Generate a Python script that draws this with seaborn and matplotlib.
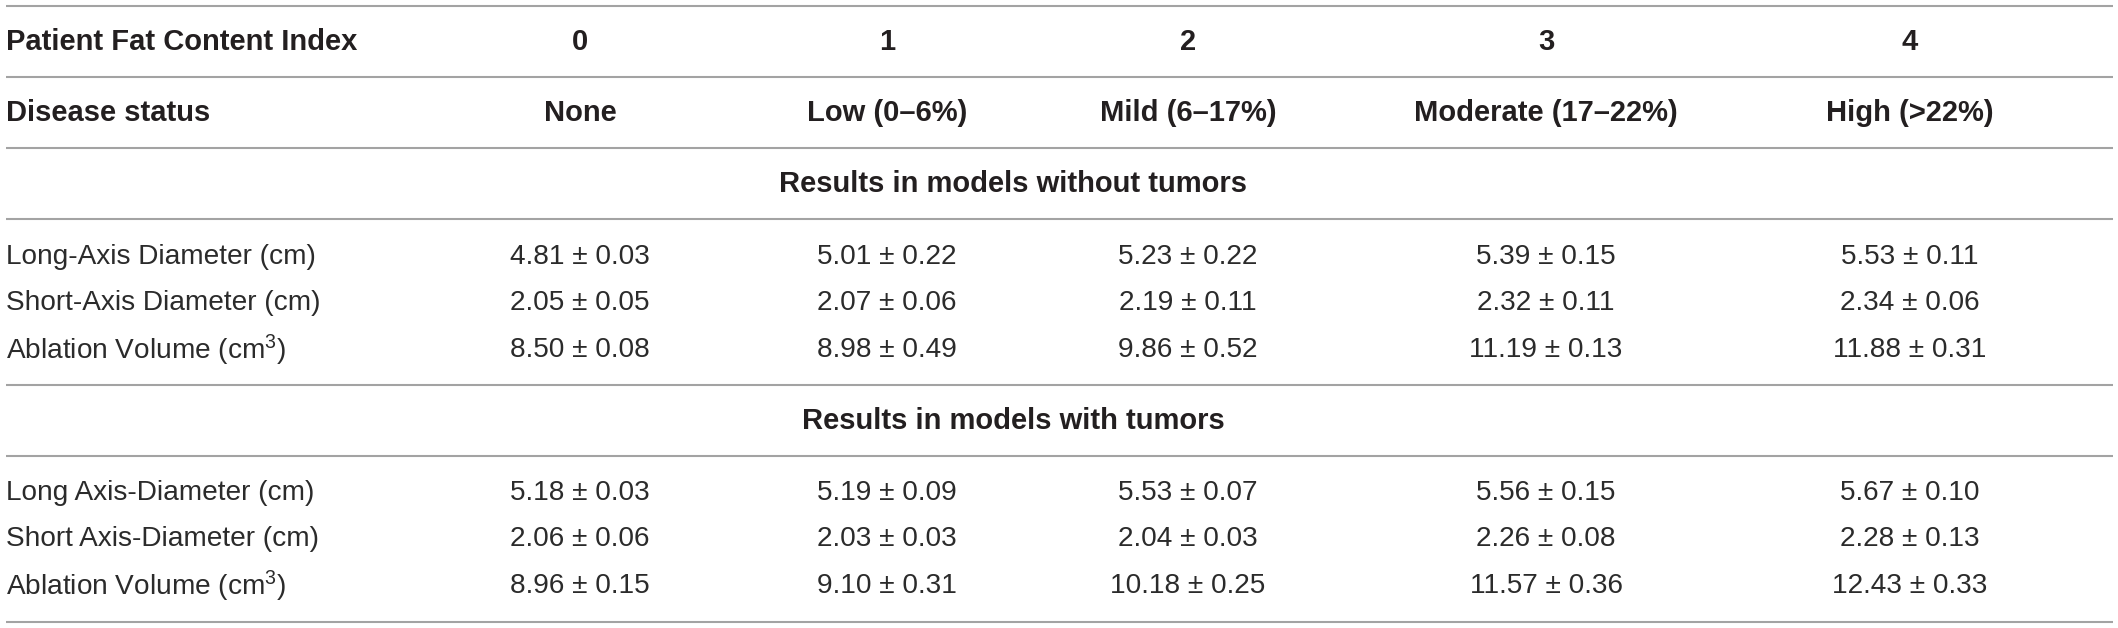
import matplotlib.pyplot as plt
import seaborn as sns

# Table content
fat_index = ["0", "1", "2", "3", "4"]
disease_status = ["None", "Low (0–6%)", "Mild (6–17%)", "Moderate (17–22%)", "High (>22%)"]

section_titles = ["Results in models without tumors", "Results in models with tumors"]

labels_no_tumor = ["Long-Axis Diameter (cm)", "Short-Axis Diameter (cm)", "Ablation Volume (cm$^{3}$)"]
labels_tumor = ["Long Axis-Diameter (cm)", "Short Axis-Diameter (cm)", "Ablation Volume (cm$^{3}$)"]

# mean and sd, one list per measure, one value per fat index
long_no_tumor = [4.81, 5.01, 5.23, 5.39, 5.53]
long_no_tumor_sd = [0.03, 0.22, 0.22, 0.15, 0.11]
short_no_tumor = [2.05, 2.07, 2.19, 2.32, 2.34]
short_no_tumor_sd = [0.05, 0.06, 0.11, 0.11, 0.06]
vol_no_tumor = [8.50, 8.98, 9.86, 11.19, 11.88]
vol_no_tumor_sd = [0.08, 0.49, 0.52, 0.13, 0.31]

long_tumor = [5.18, 5.19, 5.53, 5.56, 5.67]
long_tumor_sd = [0.03, 0.09, 0.07, 0.15, 0.10]
short_tumor = [2.06, 2.03, 2.04, 2.26, 2.28]
short_tumor_sd = [0.06, 0.03, 0.03, 0.08, 0.13]
vol_tumor = [8.96, 9.10, 10.18, 11.57, 12.43]
vol_tumor_sd = [0.15, 0.31, 0.25, 0.36, 0.33]

sns.set_theme(style="white")
plt.rcParams['font.family'] = ['Liberation Sans', 'DejaVu Sans']
plt.rcParams['mathtext.fontset'] = 'custom'
plt.rcParams['mathtext.rm'] = 'Liberation Sans'
plt.rcParams['mathtext.default'] = 'regular'

W, H = 2118, 628
fig = plt.figure(figsize=(W / 100, H / 100), dpi=100)
ax = fig.add_axes([0, 0, 1, 1])
ax.set_xlim(0, W)
ax.set_ylim(H, 0)
ax.axis('off')

# layout (pixel positions)
col_x = [580, 887, 1188, 1546, 1910]
label_x = 6
rule_y = [6, 77, 148, 219, 385, 456, 622]
fs = 20.2
fs_bold = 21
line_col = '#a3a3a3'
bold_col = '#231f20'
text_col = '#2b2b2b'

for y in rule_y:
    ax.plot([6, 2113], [y, y], color=line_col, lw=1.5, solid_capstyle='butt')

# header rows
ax.text(label_x, 42, "Patient Fat Content Index", fontsize=fs_bold, fontweight='bold',
        color=bold_col, ha='left', va='center')
ax.text(label_x, 113, "Disease status", fontsize=fs_bold, fontweight='bold',
        color=bold_col, ha='left', va='center')
for x, idx, ds in zip(col_x, fat_index, disease_status):
    ax.text(x, 42, idx, fontsize=fs_bold, fontweight='bold', color=bold_col, ha='center', va='center')
    ax.text(x, 113, ds, fontsize=fs_bold, fontweight='bold', color=bold_col, ha='center', va='center')


def draw_block(title, title_y, labels, means, sds, row_y):
    ax.text(1013, title_y, title, fontsize=fs_bold, fontweight='bold', color=bold_col,
            ha='center', va='center')
    for lab, m, s, y in zip(labels, means, sds, row_y):
        ax.text(label_x, y, lab, fontsize=fs, color=text_col, ha='left', va='center')
        for x, mv, sv in zip(col_x, m, s):
            ax.text(x, y, f"{mv:.2f} ± {sv:.2f}", fontsize=fs, color=text_col,
                    ha='center', va='center')


draw_block(section_titles[0], 184, labels_no_tumor,
           [long_no_tumor, short_no_tumor, vol_no_tumor],
           [long_no_tumor_sd, short_no_tumor_sd, vol_no_tumor_sd],
           [257, 303, 350])
draw_block(section_titles[1], 421, labels_tumor,
           [long_tumor, short_tumor, vol_tumor],
           [long_tumor_sd, short_tumor_sd, vol_tumor_sd],
           [493, 539, 586])

fig.savefig('out.png', dpi=100, facecolor='white')
